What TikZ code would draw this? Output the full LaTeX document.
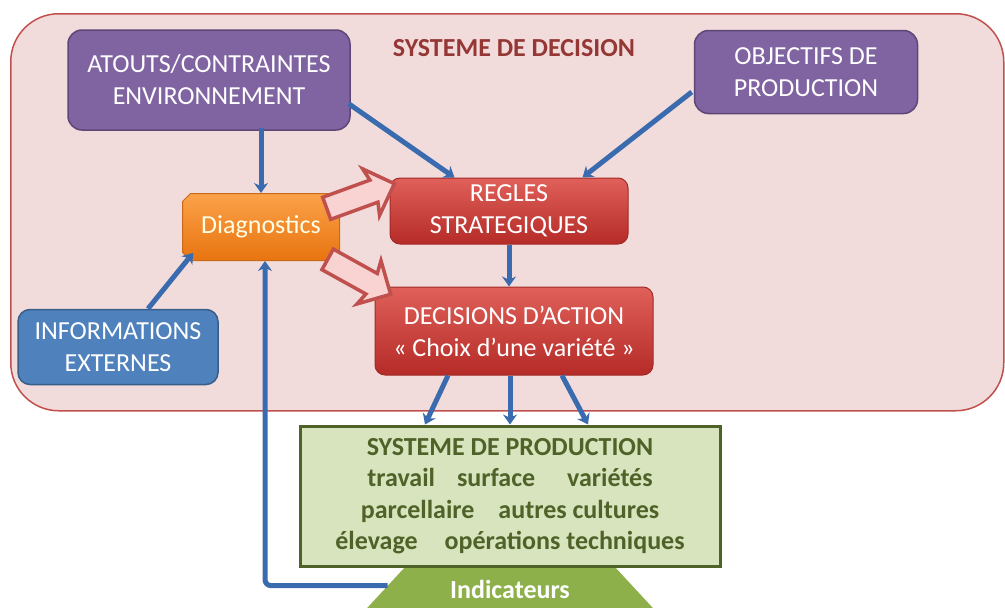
\documentclass[tikz,border=0pt]{standalone}
\usepackage{fontspec}
\setmainfont{Carlito}
\usetikzlibrary{arrows.meta,shapes.geometric,shapes.arrows,shapes.misc,calc}
\definecolor{frame}{HTML}{C0504D}
\definecolor{framefill}{HTML}{F2DCDB}
\definecolor{purp}{HTML}{8064A2}
\definecolor{purpd}{HTML}{5C4776}
\definecolor{redt}{HTML}{E0605A}
\definecolor{redb}{HTML}{B52B27}
\definecolor{redd}{HTML}{A02B27}
\definecolor{orat}{HTML}{FBA24A}
\definecolor{orab}{HTML}{E8740F}
\definecolor{orad}{HTML}{C86A1A}
\definecolor{infob}{HTML}{4F81BD}
\definecolor{infod}{HTML}{385D8A}
\definecolor{arr}{HTML}{3A6BAE}
\definecolor{prodfill}{HTML}{D7E4BD}
\definecolor{prodd}{HTML}{4F6228}
\definecolor{indg}{HTML}{8DB04B}
\definecolor{dectxt}{HTML}{953735}
\definecolor{pinkarr}{HTML}{F8D3D2}
\tikzset{
  every node/.style={font=\fontsize{26}{32}\selectfont, align=center},
  purplebox/.style={draw=purpd, line width=1.5pt, fill=purp, rounded corners=14pt, text=white},
  redbox/.style={draw=redd, line width=1pt, top color=redt, bottom color=redb, rounded corners=10pt, text=white},
  conn/.style={draw=arr, line width=5pt, -{Stealth[length=10pt,width=14pt]}},
  blockarrow/.style={single arrow, draw=frame, line width=3.5pt, fill=pinkarr, inner sep=10pt, minimum height=72pt, single arrow head extend=13pt, single arrow head indent=3pt},
}
\begin{document}
\begin{tikzpicture}[x=1pt,y=-1pt]
\useasboundingbox (0,0) rectangle (1005,608);
% container
\node[draw=frame, line width=1.5pt, fill=framefill, rounded corners=48pt, minimum width=993pt, minimum height=397pt, anchor=north west] (sys) at (10,13) {};
\node[font=\fontsize{26}{32}\selectfont\bfseries, text=dectxt] (title) at (514,48) {SYSTEME DE DECISION};
% boxes
\node[purplebox, minimum width=282pt, minimum height=100pt] (atouts) at (209,80) {ATOUTS/CONTRAINTES\\ENVIRONNEMENT};
\node[purplebox, minimum width=223pt, minimum height=83pt] (obj) at (806,72) {OBJECTIFS DE\\PRODUCTION};
\node[chamfered rectangle, chamfered rectangle xsep=4pt, chamfered rectangle ysep=4pt, draw=orad, line width=1pt, top color=orat, bottom color=orab, minimum width=157pt, minimum height=67pt, text=white!90!yellow] (diag) at (261,227) {Diagnostics};
\node[redbox, minimum width=238pt, minimum height=66pt] (regles) at (509,211) {REGLES\\STRATEGIQUES};
\node[redbox, minimum width=278pt, minimum height=88pt] (dec) at (514,331) {DECISIONS D’ACTION\\« Choix d’une variété »};
\node[draw=infod, line width=1.5pt, fill=infob, rounded corners=12pt, text=white, minimum width=200pt, minimum height=75pt] (info) at (118,347) {INFORMATIONS\\EXTERNES};
\node[draw=prodd, line width=3pt, fill=prodfill, minimum width=420pt, minimum height=140pt, text=prodd, inner sep=0pt, font=\fontsize{26}{31.5}\selectfont\bfseries] (prod) at (510,496) {SYSTEME DE PRODUCTION\\travail\hspace{22pt}surface\hspace{32pt}variétés\\parcellaire\hspace{24pt}autres cultures\\élevage\hspace{27pt}opérations techniques};
\node[trapezium, trapezium stretches=true, trapezium left angle=40, trapezium right angle=40, fill=indg, minimum width=290pt, minimum height=42pt, text=white, font=\fontsize{26}{32}\selectfont\bfseries, inner sep=0pt] (ind) at (510,589) {Indicateurs};
% block arrows
\node[blockarrow, rotate=20] (ba1) at (355,198) {};
\node[blockarrow, rotate=-29] (ba2) at (354,274) {};
% connectors
\draw[conn] ([yshift=3pt]atouts.south -| diag.north) -- (diag.north);
\draw[conn] ($(atouts.south east)+(-2,-27)$) -- ($(regles.north west)+(65,0)$);
\draw[conn] ($(obj.west)+(-2,20)$) -- ($(regles.north east)+(-46,0)$);
\draw[conn] ([yshift=0pt]regles.south) -- (regles.south |- dec.north);
\draw[conn] ($(info.north)+(30,0)$) -- ($(diag.south west)+(7,-4)$);
\draw[conn] ($(dec.south)+(-66,0)$) -- ($(prod.north)+(-85,0)$);
\draw[conn] (dec.south -| prod.north) -- (prod.north);
\draw[conn] ($(dec.south)+(48,0)$) -- ($(prod.north)+(78,0)$);
\coordinate (fb) at ($(ind.top left corner)!0.42!(ind.bottom left corner)$);
\draw[conn, rounded corners=6pt] (fb) -| ([xshift=4pt]diag.south);
\end{tikzpicture}
\end{document}
